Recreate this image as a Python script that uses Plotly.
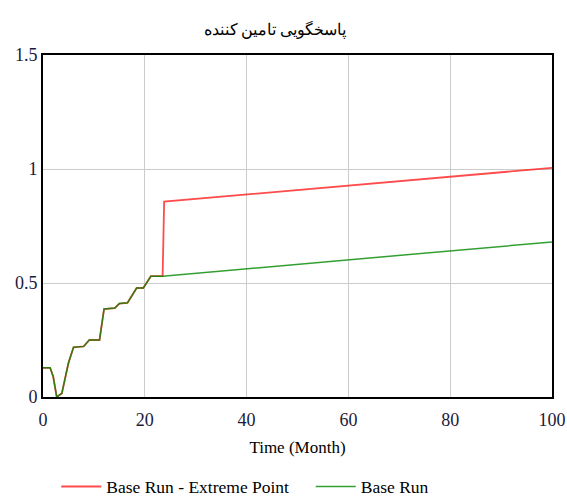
import plotly.graph_objects as go

title_text = "پاسخگویی تامین کننده"
x_title = "Time (Month)"
series_names = ["Base Run - Extreme Point", "Base Run"]

base_t = [0, 1.4, 2.0, 2.7, 3.7, 5.0, 6.0, 8.0, 9.1, 11.1, 12.0, 14.1, 15.0, 16.6, 18.4, 19.7, 21.2, 23.5, 100]
base_v = [0.128, 0.128, 0.09, 0.0, 0.016, 0.149, 0.218, 0.222, 0.25, 0.25, 0.386, 0.39, 0.41, 0.413, 0.478, 0.478, 0.53, 0.53, 0.68]

ext_t = [0, 1.4, 2.0, 2.7, 3.7, 5.0, 6.0, 8.0, 9.1, 11.1, 12.0, 14.1, 15.0, 16.6, 18.4, 19.7, 21.2, 23.5, 23.8, 100]
ext_v = [0.128, 0.128, 0.09, 0.0, 0.016, 0.149, 0.218, 0.222, 0.25, 0.25, 0.386, 0.39, 0.41, 0.413, 0.478, 0.478, 0.53, 0.53, 0.857, 1.005]

x_ticks = [0, 20, 40, 60, 80, 100]
y_ticks = [0, 0.5, 1, 1.5]
y_tick_labels = ["0", "0.5", "1", "1.5"]

font_family = "Liberation Serif, Times New Roman, serif"

fig = go.Figure()
fig.add_trace(go.Scatter(x=ext_t, y=ext_v, mode="lines", name=series_names[0], legend="legend",
                         line=dict(color="rgba(255,30,30,0.8)", width=1.8)))
fig.add_trace(go.Scatter(x=base_t, y=base_v, mode="lines", name=series_names[1], legend="legend2",
                         line=dict(color="rgba(0,135,0,0.8)", width=1.5)))

legend_common = dict(orientation="h", xanchor="left", y=-0.262, yanchor="middle",
                     font=dict(family=font_family, size=17.5, color="black"),
                     itemwidth=40, tracegroupgap=0, bgcolor="rgba(0,0,0,0)")

fig.update_layout(
    width=567, height=496,
    margin=dict(l=43, r=15, t=55, b=99, autoexpand=False),
    paper_bgcolor="white", plot_bgcolor="white",
    font=dict(family=font_family, size=18, color="#1a1a3a"),
    title=dict(text=title_text, x=0.485, xanchor="center", y=0.9395, yanchor="middle",
               font=dict(family=font_family, size=15.5, color="black")),
    showlegend=True,
    legend=dict(x=0.026, **legend_common),
    legend2=dict(x=0.526, **legend_common),
)
fig.update_xaxes(range=[0, 100], tickvals=x_ticks, showgrid=True, gridcolor="#cccccc", gridwidth=1,
                 showline=True, linecolor="black", linewidth=2, mirror=True, zeroline=False,
                 ticks="outside", ticklen=5, tickcolor="rgba(0,0,0,0)", automargin=False,
                 title=dict(text=x_title, font=dict(size=17, color="black"), standoff=13),
                 tickfont=dict(size=18))
fig.update_yaxes(range=[0, 1.5], tickvals=y_ticks, ticktext=y_tick_labels, showgrid=True,
                 gridcolor="#cccccc", gridwidth=1, showline=True, linecolor="black", linewidth=2,
                 mirror=True, zeroline=False, ticks="", automargin=False, tickfont=dict(size=18))

fig.write_html("out.html", config={"displayModeBar": False},
               post_script="document.body.style.margin='0';document.body.style.overflow='hidden';")
